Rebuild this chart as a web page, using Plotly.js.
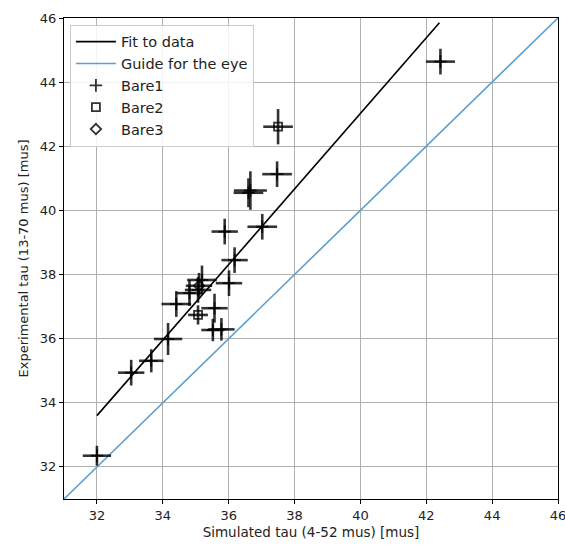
<!DOCTYPE html>
<html>
<head>
<meta charset="utf-8">
<script src="https://cdn.plot.ly/plotly-3.0.1.min.js"></script>
<style>html,body{margin:0;padding:0;background:#fff;}#chart{width:565px;height:547px;}</style>
</head>
<body>
<div id="chart"></div>
<script>
// Fit line endpoints
var fitX = [32.0, 42.4];
var fitY = [33.6, 45.85];
// Guide line y = x
var guideX = [31, 46];
var guideY = [31, 46];

// Bare1 points
var bare1X    = [32.0, 33.04, 33.65, 34.16, 34.41, 34.81, 35.07, 35.19, 36.01, 35.57, 35.52, 35.78, 36.18, 35.88, 37.02, 36.60, 36.66, 37.47, 42.43];
var bare1Y    = [32.35, 34.94, 35.31, 35.99, 37.08, 37.42, 37.52, 37.83, 37.73, 36.95, 36.27, 36.29, 38.45, 39.34, 39.49, 40.55, 40.62, 41.13, 44.64];
var bare1XErr = [0.43, 0.40, 0.37, 0.43, 0.45, 0.40, 0.40, 0.45, 0.40, 0.40, 0.35, 0.40, 0.40, 0.40, 0.45, 0.45, 0.50, 0.45, 0.44];
var bare1YErr = [0.31, 0.40, 0.36, 0.50, 0.40, 0.40, 0.40, 0.45, 0.40, 0.45, 0.35, 0.35, 0.40, 0.40, 0.40, 0.45, 0.60, 0.40, 0.40];

// Bare2 points
var bare2X    = [35.07, 37.50];
var bare2Y    = [36.74, 42.61];
var bare2XErr = [0.30, 0.45];
var bare2YErr = [0.30, 0.55];

// Bare3 points
var bare3X    = [35.10];
var bare3Y    = [37.65];
var bare3XErr = [0.40];
var bare3YErr = [0.40];

var ebColor = 'rgba(0,0,0,0.8)';
function errTrace(name, xs, ys, xe, ye, symbol, size) {
  return {
    type: 'scatter', mode: 'markers', name: name,
    x: xs, y: ys,
    marker: {symbol: symbol, size: size, color: ebColor, line: {color: ebColor, width: 1.8}},
    error_x: {type: 'data', array: xe, visible: true, color: ebColor, thickness: 2.6, width: 0},
    error_y: {type: 'data', array: ye, visible: true, color: ebColor, thickness: 2.6, width: 0}
  };
}

var traces = [
  {type: 'scatter', mode: 'lines', name: 'Fit to data', x: fitX, y: fitY,
   line: {color: '#000000', width: 1.6}},
  {type: 'scatter', mode: 'lines', name: 'Guide for the eye', x: guideX, y: guideY,
   line: {color: '#5a9fd0', width: 1.6}},
  errTrace('Bare1', bare1X, bare1Y, bare1XErr, bare1YErr, 'cross-thin-open', 9),
  errTrace('Bare2', bare2X, bare2Y, bare2XErr, bare2YErr, 'square-open', 8),
  errTrace('Bare3', bare3X, bare3Y, bare3XErr, bare3YErr, 'diamond-open', 8)
];

var axisCommon = {
  range: [31, 46], dtick: 2, tick0: 32,
  showgrid: true, gridcolor: '#b0b0b0', gridwidth: 1,
  zeroline: false, showline: true, linecolor: '#000', linewidth: 1, mirror: true,
  ticks: 'outside', ticklen: 4, tickcolor: '#000', tickwidth: 1,
  ticklabeloverflow: 'allow',
  tickfont: {family: 'DejaVu Sans', size: 13, color: '#222'}
};

var layout = {
  width: 565, height: 547,
  margin: {l: 64, r: 7, t: 18, b: 48},
  paper_bgcolor: '#fff', plot_bgcolor: '#fff',
  font: {family: 'DejaVu Sans', size: 13, color: '#222'},
  showlegend: true,
  legend: {
    x: 0.012, y: 0.986, xanchor: 'left', yanchor: 'top',
    bgcolor: 'rgba(255,255,255,0.85)', bordercolor: '#cccccc', borderwidth: 1,
    font: {family: 'DejaVu Sans', size: 14.5, color: '#222'},
    tracegroupgap: 0, itemwidth: 40
  },
  xaxis: Object.assign({}, axisCommon, {
    title: {text: 'Simulated tau (4-52 mus) [mus]', font: {family: 'DejaVu Sans', size: 13.5, color: '#222'}, standoff: 5}
  }),
  yaxis: Object.assign({}, axisCommon, {
    title: {text: 'Experimental tau (13-70 mus) [mus]', font: {family: 'DejaVu Sans', size: 13, color: '#222'}, standoff: 8}
  })
};

Plotly.newPlot('chart', traces, layout, {displayModeBar: false, staticPlot: true});
</script>
</body>
</html>
